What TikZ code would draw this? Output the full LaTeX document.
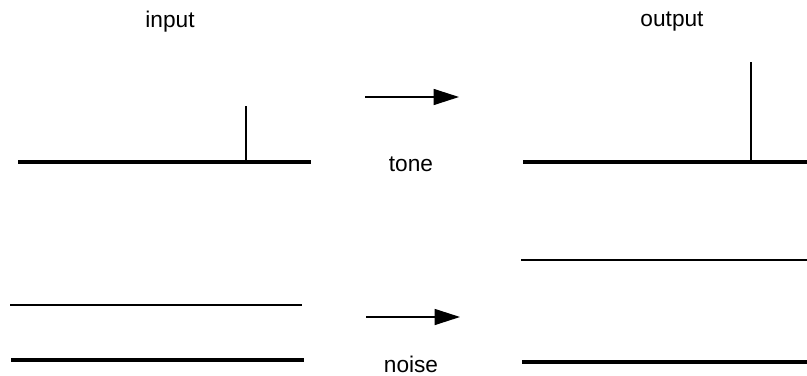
\documentclass[tikz,border=0pt]{standalone}
\usepackage{fontspec}
\setmainfont{Liberation Sans}
\usetikzlibrary{arrows.meta}

\begin{document}
\begin{tikzpicture}[x=0.75pt,y=-0.75pt,
	baseline/.style={line width=3.6pt},
	spike/.style={line width=2pt},
	thinline/.style={line width=1.6pt},
	flow/.style={line width=1pt,-{Triangle[length=19pt,width=12pt]}},
	caption/.style={font=\fontsize{17}{20}\selectfont,inner sep=0pt}]
		\useasboundingbox (0,0) rectangle (807,375);

		% headings
		\node[caption] (in)  at (170,22) {input};
		\node[caption] (out) at (672,22) {output};

		% tone: input and output
		\draw[baseline] (18,162) -- (311,162);
		\draw[spike] (246,162) -- (246,106);
		\coordinate (t1) at (365,97);
		\coordinate (t2) at (459,97);
		\draw[flow] (t1) -- (t2);
		\node[caption] (tone) at (411,164) {tone};
		\draw[baseline] (523,162) -- (807,162);
		\draw[spike] (751,162) -- (751,62);

		% noise: input and output
		\draw[thinline] (10,305) -- (302,305);
		\draw[baseline] (11,360) -- (304,360);
		\coordinate (n1) at (366,317);
		\coordinate (n2) at (460,317);
		\draw[flow] (n1) -- (n2);
		\node[caption] (noise) at (411,364) {noise};
		\draw[thinline] (521,260) -- (807,260);
		\draw[baseline] (522,362) -- (807,362);
\end{tikzpicture}
\end{document}
